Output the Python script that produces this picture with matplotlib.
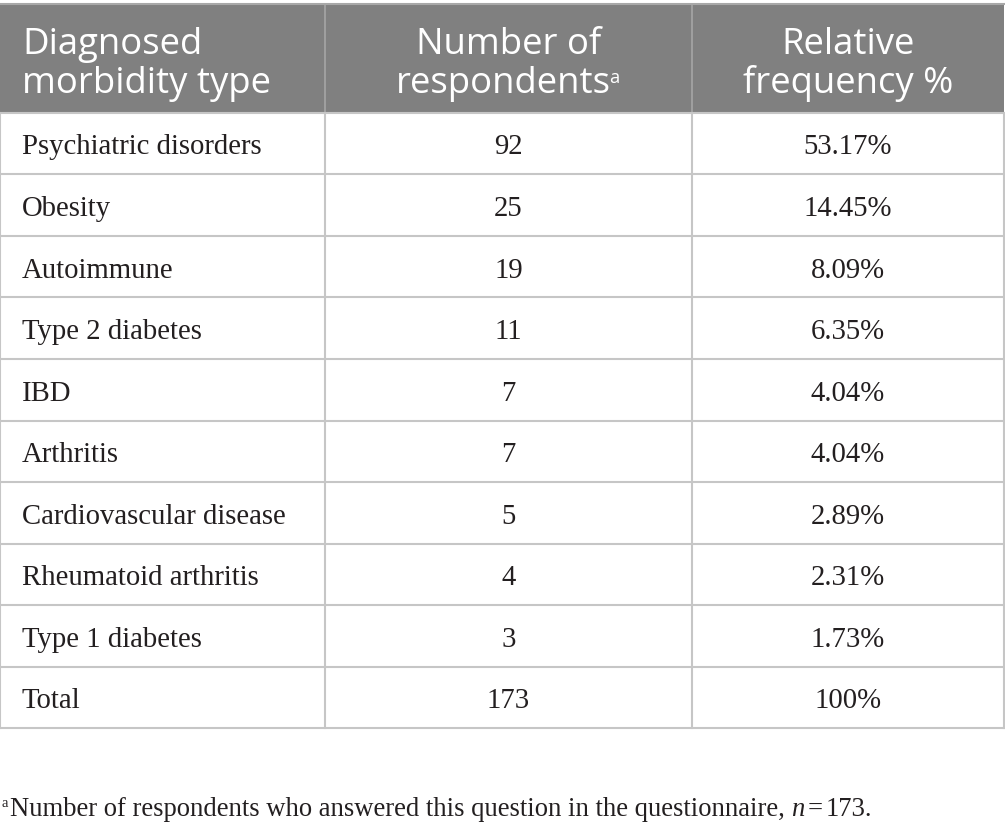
import matplotlib
matplotlib.use("Agg")
import matplotlib.pyplot as plt
from matplotlib.patches import Rectangle

# table content
headers = ["Diagnosed\nmorbidity type", "Number of\nrespondents", "Relative\nfrequency %"]
morbidity = ["Psychiatric disorders", "Obesity", "Autoimmune", "Type 2 diabetes", "IBD",
             "Arthritis", "Cardiovascular disease", "Rheumatoid arthritis", "Type 1 diabetes", "Total"]
respondents = [92, 25, 19, 11, 7, 7, 5, 4, 3, 173]
rel_freq = ["53.17%", "14.45%", "8.09%", "6.35%", "4.04%", "4.04%", "2.89%", "2.31%", "1.73%", "100%"]
footnote = "Number of respondents who answered this question in the questionnaire, "

W, H = 1005, 830
col_edges = [0, 325, 692, 1004]
head_top, head_bot = 4, 113
row_h = 61.5
grid_col = "#c6c6c6"
head_col = "#808080"
ink = "#231f20"

head_font = "Open Sans"
body_font = "Liberation Serif"

fig = plt.figure(figsize=(W / 100, H / 100), dpi=100)
ax = fig.add_axes([0, 0, 1, 1])
ax.set_xlim(0, W)
ax.set_ylim(H, 0)
ax.axis("off")
fig.canvas.draw()
r = fig.canvas.get_renderer()


def text_w(s, size, family, style="normal"):
    t = ax.text(0, 0, s, fontsize=size, family=family, style=style)
    w = t.get_window_extent(r).width
    t.remove()
    return w


def fit_size(s, target_px, family):
    # font size that makes s about target_px wide
    return 20 * target_px / text_w(s, 20, family)


head_fs = fit_size("Diagnosed", 180, head_font)
body_fs = fit_size("Psychiatric disorders", 240, body_font)
foot_fs = fit_size(footnote + "n = 173.", 870, body_font)

# header band
ax.add_patch(Rectangle((col_edges[0], head_top), col_edges[-1] - col_edges[0], head_bot - head_top,
                       facecolor=head_col, edgecolor="none"))
for x in col_edges[1:-1]:
    ax.plot([x, x], [head_top, head_bot], color="#a6a6a6", lw=1.2)
ax.plot([col_edges[0], col_edges[-1]], [head_top, head_top], color="#a8a8a8", lw=1.5)

base1, base2 = 54, 93
hkw = dict(color="white", fontsize=head_fs, family=head_font, va="baseline")
centers = [(col_edges[i] + col_edges[i + 1]) / 2 for i in range(3)]
sup_fs = head_fs * 0.5
for i, h in enumerate(headers):
    l1, l2 = h.split("\n")
    if i == 0:
        ax.text(col_edges[0] + 22, base1, l1, ha="left", **hkw)
        ax.text(col_edges[0] + 22, base2, l2, ha="left", **hkw)
    elif i == 1:
        # second line carries a superscript "a"
        w2 = text_w(l2, head_fs, head_font)
        ws = text_w("a", sup_fs, head_font)
        x0 = centers[i] - (w2 + ws) / 2
        ax.text(centers[i], base1, l1, ha="center", **hkw)
        ax.text(x0, base2, l2, ha="left", **hkw)
        ax.text(x0 + w2 - 2, base2 - 10, "a", color="white", fontsize=sup_fs,
                family=head_font, ha="left", va="baseline")
    else:
        ax.text(centers[i], base1, l1, ha="center", **hkw)
        ax.text(centers[i], base2, l2, ha="center", **hkw)

# body rows
n = len(morbidity)
bottom = head_bot + n * row_h
for i in range(n + 1):
    y = head_bot + i * row_h
    ax.plot([col_edges[0], col_edges[-1]], [y, y], color=grid_col, lw=1.5)
for x in col_edges:
    ax.plot([x, x], [head_bot, bottom], color=grid_col, lw=1.5)

bkw = dict(fontsize=body_fs, family=body_font, color=ink, va="baseline")
for i, (name, cnt, pct) in enumerate(zip(morbidity, respondents, rel_freq)):
    y = head_bot + i * row_h + 41.5
    ax.text(col_edges[0] + 22, y, name, ha="left", **bkw)
    ax.text(centers[1], y, str(cnt), ha="center", **bkw)
    ax.text(centers[2], y, pct, ha="center", **bkw)

# footnote
fy = 816
fkw = dict(fontsize=foot_fs, family=body_font, color=ink, ha="left", va="baseline")
ax.text(1, fy - 9, "a", fontsize=foot_fs * 0.55, family=body_font, color=ink, ha="left", va="baseline")
x = 10
ax.text(x, fy, footnote, **fkw)
x += text_w(footnote, foot_fs, body_font)
ax.text(x, fy, "n", style="italic", **fkw)
x += text_w("n", foot_fs, body_font, "italic") + 3
ax.text(x, fy, "=", **fkw)
x += text_w("=", foot_fs, body_font) + 3
ax.text(x, fy, "173.", **fkw)

fig.savefig("out.png", dpi=100, facecolor="white")
